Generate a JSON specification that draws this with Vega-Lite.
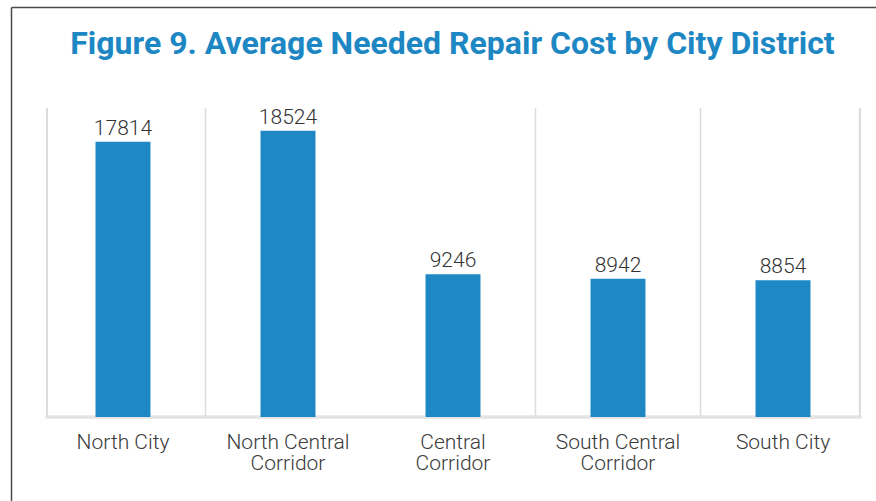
{
  "$schema": "https://vega.github.io/schema/vega-lite/v6.json",
  "width": 865,
  "height": 494,
  "autosize": {"type": "none"},
  "padding": {"left": 11, "top": 7, "right": 0, "bottom": 0},
  "background": "white",
  "title": {
    "text": "Figure 9. Average Needed Repair Cost by City District",
    "font": "Roboto",
    "fontSize": 32,
    "fontWeight": "bold",
    "color": "#1d87c4",
    "anchor": "middle",
    "frame": "group",
    "baseline": "alphabetic",
    "offset": 0,
    "dx": 9,
    "dy": 79
  },
  "config": {"view": {"stroke": null}, "font": "Roboto"},
  "data": {
    "values": [
      {"district": "North City", "cost": 17814},
      {"district": "North Central Corridor", "cost": 18524},
      {"district": "Central Corridor", "cost": 9246},
      {"district": "South Central Corridor", "cost": 8942},
      {"district": "South City", "cost": 8854}
    ]
  },
  "layer": [
    {
      "transform": [{"filter": "datum.district == 'North Central Corridor' || datum.district == 'South Central Corridor' || datum.district == 'South City'"}],
      "mark": {"type": "rule", "color": "#dcdcdc", "strokeWidth": 1.5},
      "encoding": {
        "x": {
          "field": "district", "type": "nominal", "sort": null, "bandPosition": 0,
          "scale": {"domain": ["North City", "North Central Corridor", "Central Corridor", "South Central Corridor", "South City"], "paddingInner": 0, "paddingOuter": 0.1212, "align": 0.7375},
          "axis": {"orient": "top", "domain": true, "domainColor": "#4a4a4a", "domainWidth": 1.5, "labels": false, "ticks": false, "grid": false, "title": null}
        },
        "y": {
          "datum": 0, "type": "quantitative",
          "scale": {"domain": [-5437, 26537], "nice": false, "zero": false},
          "axis": {"orient": "left", "domain": true, "domainColor": "#4a4a4a", "domainWidth": 1.5, "labels": false, "ticks": false, "grid": false, "title": null}
        },
        "y2": {"datum": 20000}
      }
    },
    {
      "mark": {"type": "rule", "color": "#dcdcdc", "strokeWidth": 1.5},
      "encoding": {
        "x": {"datum": "North City", "type": "nominal", "bandPosition": 0.04, "axis": null},
        "y": {"datum": 0, "type": "quantitative"},
        "y2": {"datum": 20000}
      }
    },
    {
      "mark": {"type": "rule", "color": "#dcdcdc", "strokeWidth": 1.5},
      "encoding": {
        "x": {"datum": "South City", "type": "nominal", "bandPosition": 0.965, "axis": null},
        "y": {"datum": 0, "type": "quantitative"},
        "y2": {"datum": 20000}
      }
    },
    {
      "mark": {"type": "rule", "color": "#e4e4e4", "strokeWidth": 2.5},
      "encoding": {
        "x": {"datum": "North City", "type": "nominal", "bandPosition": 0.03, "axis": null},
        "x2": {"datum": "South City", "bandPosition": 0.975},
        "y": {"datum": 0, "type": "quantitative"}
      }
    },
    {
      "mark": {"type": "bar", "color": "#1e88c5", "width": {"band": 0.333}},
      "encoding": {
        "x": {
          "field": "district", "type": "nominal", "sort": null,
          "axis": {
            "orient": "bottom", "offset": -84, "domain": false, "ticks": false, "grid": false, "title": null,
            "labelAngle": 0, "labelFont": "Roboto", "labelFontSize": 21, "labelFontWeight": 300,
            "labelColor": "#3a3a3a", "labelPadding": 14, "labelLineHeight": 21, "labelLimit": 0,
            "labelExpr": "indexof(datum.label, ' Corridor') > 0 ? [replace(datum.label, ' Corridor', ''), 'Corridor'] : datum.label"
          }
        },
        "y": {"field": "cost", "type": "quantitative"},
        "y2": {"datum": 0}
      }
    },
    {
      "mark": {"type": "text", "baseline": "alphabetic", "dy": -7, "fontSize": 21, "fontWeight": 300, "font": "Roboto", "color": "#333333"},
      "encoding": {
        "x": {"field": "district", "type": "nominal", "sort": null, "axis": null},
        "y": {"field": "cost", "type": "quantitative"},
        "text": {"field": "cost", "type": "quantitative", "format": "d"}
      }
    }
  ],
  "resolve": {"axis": {"x": "independent"}}
}
